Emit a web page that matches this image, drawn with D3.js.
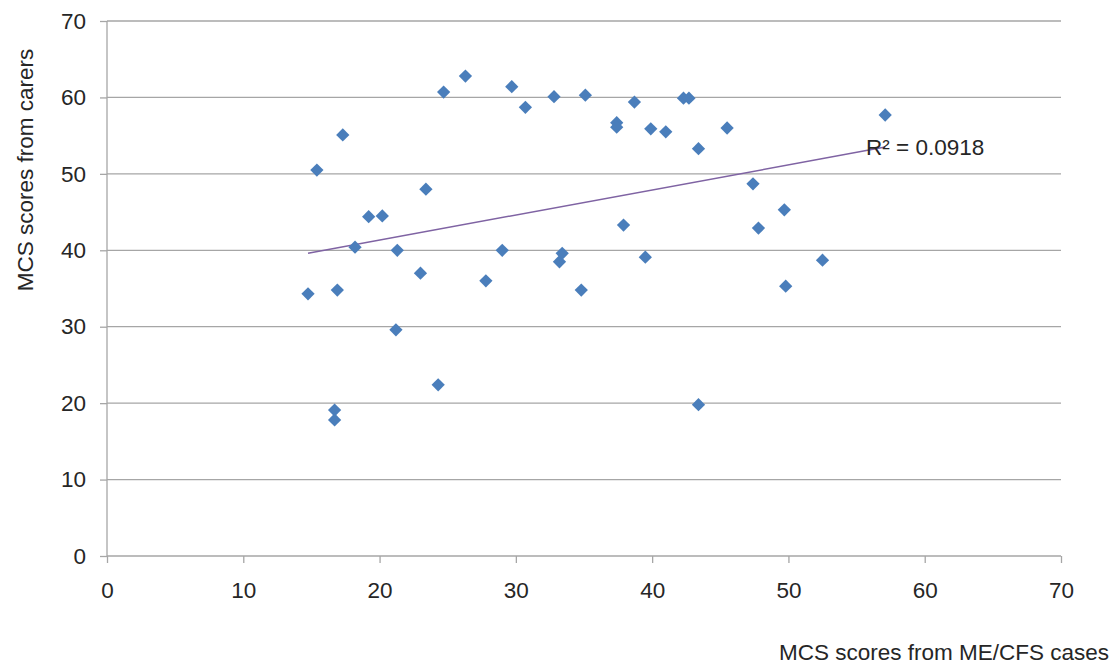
<!DOCTYPE html>
<html><head><meta charset="utf-8">
<script src="https://cdn.jsdelivr.net/npm/d3@7"></script>
<style>body{margin:0;background:#fff;} svg{display:block;font-family:"Liberation Sans",Arial,sans-serif;}</style>
</head><body><svg id="c" width="1119" height="668"></svg>
<script>
const xValues = [14.75,15.4,16.9,17.3,16.7,16.7,18.2,19.2,20.2,21.3,21.2,23.0,23.4,24.3,24.7,26.3,27.8,29.0,29.7,30.7,32.8,33.2,33.4,34.8,35.1,37.4,37.4,37.9,38.7,39.5,39.9,41.0,42.3,42.7,43.4,43.4,45.5,47.4,47.8,49.7,49.8,52.5,57.1];
const yValues = [34.3,50.5,34.8,55.1,19.1,17.8,40.4,44.4,44.5,40.0,29.6,37.0,48.0,22.4,60.7,62.8,36.0,40.0,61.4,58.7,60.1,38.5,39.6,34.8,60.3,56.7,56.1,43.3,59.4,39.1,55.9,55.5,59.9,59.9,19.8,53.3,56.0,48.7,42.9,45.3,35.3,38.7,57.7];
const xTicks = [0,10,20,30,40,50,60,70];
const yTicks = [0,10,20,30,40,50,60,70];
const r2Label = "R² = 0.0918";
const xTitle = "MCS scores from ME/CFS cases";
const yTitle = "MCS scores from carers";

const svg = d3.select("#c");
const L=107,R=1061,T=21,B=556;
const FS=22.5;
const x = d3.scaleLinear().domain([0,70]).range([L,R]);
const y = d3.scaleLinear().domain([0,70]).range([B,T]);
const grid="#a6a6a6", txt="#262626";

// gridlines
svg.append("g").selectAll("line").data(yTicks.filter(d=>d>0)).join("line")
  .attr("x1",L).attr("x2",R).attr("y1",d=>y(d)).attr("y2",d=>y(d))
  .attr("stroke",grid).attr("stroke-width",1.3);

// axes
const ya = svg.append("g").attr("transform",`translate(${L},0)`)
  .call(d3.axisLeft(y).tickValues(yTicks).tickSize(7).tickPadding(14));
const xa = svg.append("g").attr("transform",`translate(0,${B})`)
  .call(d3.axisBottom(x).tickValues(xTicks).tickSize(7).tickPadding(19));
[ya,xa].forEach(a=>{
  a.selectAll("path,line").attr("stroke",grid).attr("stroke-width",1.3);
  a.selectAll("text").attr("font-size",FS).attr("fill",txt).attr("font-family","Liberation Sans, Arial, sans-serif");
});
ya.select(".domain").attr("d",`M0,${B}V${T}`);
xa.select(".domain").attr("d",`M${L},0H${R}`);

// regression
const n=xValues.length;
const mx=d3.mean(xValues), my=d3.mean(yValues);
let sxy=0,sxx=0;
for(let i=0;i<n;i++){sxy+=(xValues[i]-mx)*(yValues[i]-my);sxx+=(xValues[i]-mx)**2;}
const slope=sxy/sxx, icpt=my-slope*mx;
const x0=d3.min(xValues), x1=d3.max(xValues);
svg.append("line").attr("x1",x(x0)).attr("y1",y(icpt+slope*x0))
  .attr("x2",x(x1)).attr("y2",y(icpt+slope*x1))
  .attr("stroke","#7f63a3").attr("stroke-width",1.5);

// points
const sym=d3.symbol().type(d3.symbolSquare).size(88);
svg.append("g").selectAll("path").data(xValues.map((v,i)=>[v,yValues[i]])).join("path")
  .attr("d",sym).attr("fill","#4a7ebb")
  .attr("transform",d=>`translate(${x(d[0])},${y(d[1])}) rotate(45)`);

svg.append("text").attr("x",866).attr("y",155).attr("font-size",FS).attr("fill",txt).text(r2Label);
svg.append("text").attr("x",1109).attr("y",660).attr("text-anchor","end").attr("font-size",FS).attr("fill",txt).text(xTitle);
svg.append("text").attr("transform","translate(33,170) rotate(-90)").attr("text-anchor","middle").attr("font-size",FS).attr("fill",txt).text(yTitle);
</script></body></html>
